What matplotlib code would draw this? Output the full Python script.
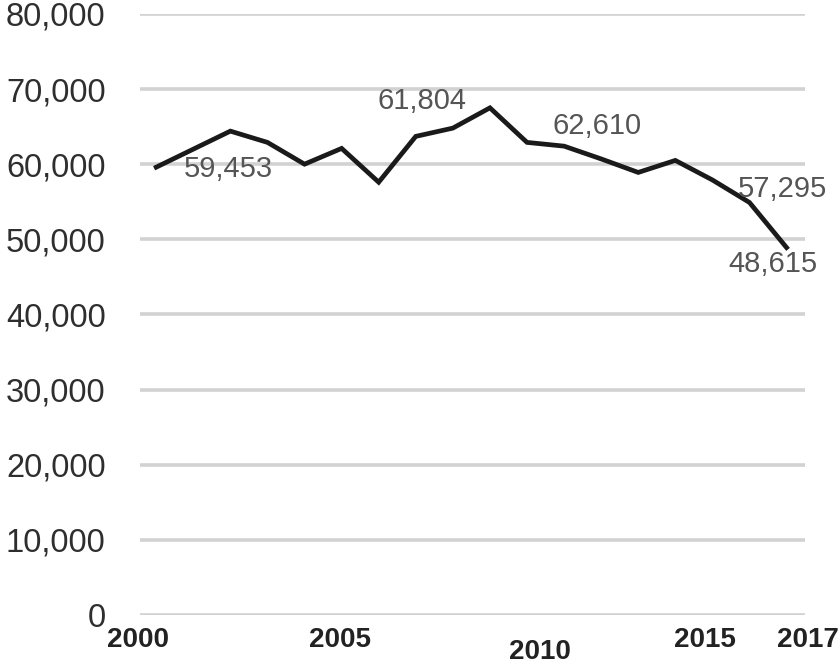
import matplotlib
matplotlib.use("Agg")
import matplotlib.pyplot as plt
from matplotlib.ticker import FuncFormatter

# ---------------------------------------------------------------
# data
# ---------------------------------------------------------------
years = list(range(2000, 2018))
values = [59600, 62000, 64400, 62900, 60000, 62100, 57600, 63700, 64800,
          67500, 62900, 62400, 60700, 58900, 60500, 57900, 54900, 48900]

callout_text = ["59,453", "61,804", "62,610", "57,295", "48,615"]
callout_x = [2001.94, 2007.17, 2011.89, 2016.9, 2016.63]
callout_y = [59300, 68400, 65100, 56700, 46700]

xlabel_text = ["2000", "2005", "2010", "2015", "2017"]
xlabel_pos = [1999.51, 2004.96, 2010.35, 2014.81, 2017.59]
xlabel_drop = [0, 0, 1, 0, 0]   # the 2010 label sits a little lower

plt.rcParams["font.family"] = ["Liberation Sans", "DejaVu Sans"]

fig = plt.figure(figsize=(8.4, 6.64), dpi=100)
ax = fig.add_axes([0.167, 0.074, 0.791, 0.905])

ax.plot(years, values, color="#1a1a1a", linewidth=3.4, solid_joinstyle="miter")

ax.set_ylim(0, 80000)
ax.set_xlim(1999.57, 2017.49)
ax.set_yticks(range(0, 80001, 10000))
ax.yaxis.set_major_formatter(FuncFormatter(lambda v, p: f"{int(v):,}"))
ax.tick_params(axis="y", length=0, pad=25, labelsize=23.5, labelcolor="#2e2e2e")
ax.set_xticks([])

ax.grid(axis="y", color="#d2d2d2", linewidth=2.6)
ax.set_axisbelow(True)
for s in ax.spines.values():
    s.set_visible(False)

for t, x, y in zip(callout_text, callout_x, callout_y):
    ax.text(x, y, t, ha="center", va="center", fontsize=21, color="#555555")

xt = ax.get_xaxis_transform()
for t, x, d in zip(xlabel_text, xlabel_pos, xlabel_drop):
    ax.text(x, -0.042 - 0.02 * d, t, transform=xt, ha="center", va="center",
            fontsize=20, color="#222222", fontweight="bold")

fig.savefig("out.png", dpi=100)
